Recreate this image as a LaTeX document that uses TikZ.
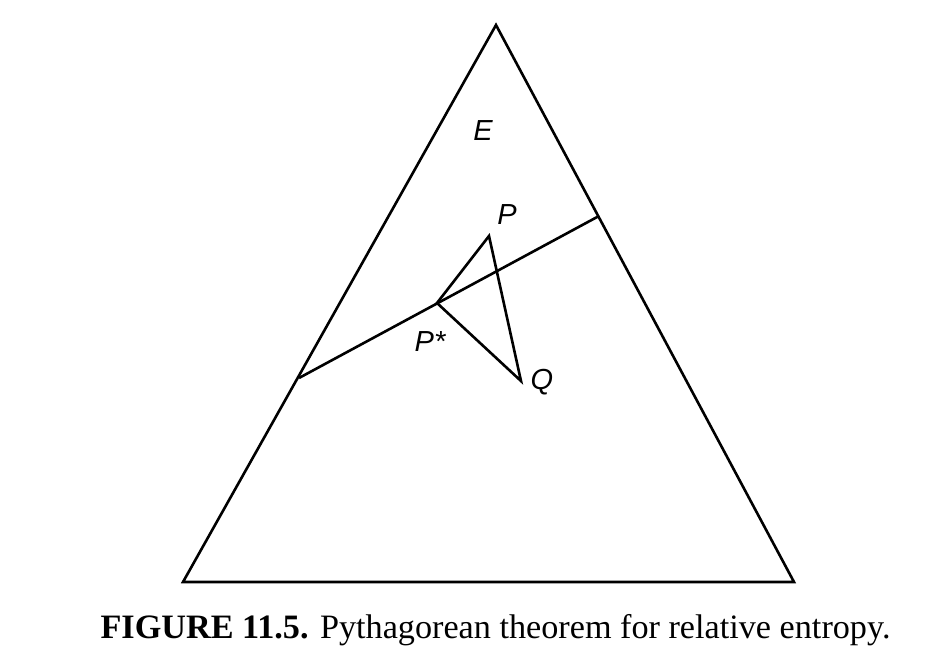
\documentclass[tikz,border=0pt]{standalone}
\usepackage{fontspec}
\setmainfont{Liberation Serif}
\newfontfamily\lblfont{Liberation Sans}
\begin{document}
\begin{tikzpicture}[x=1pt,y=-1pt,
  edge/.style={line width=2.6pt,line join=miter,line cap=butt},
  lbl/.style={font=\lblfont\itshape\fontsize{29}{31}\selectfont,inner sep=0pt}]
\useasboundingbox (0,0) rectangle (929,669);
\coordinate (A) at (496,25);
\coordinate (B) at (183,582);
\coordinate (C) at (794,582);
\coordinate (L) at (299,378);
\coordinate (R) at (599,216);
\coordinate (P) at (489,236);
\coordinate (Ps) at (437,303);
\coordinate (Q) at (521,381);
\draw[edge] (A) -- (B) -- (C) -- cycle;
\draw[edge] (L) -- (R);
\draw[edge] (P) -- (Ps) -- (Q) -- cycle;
\node[lbl] (lE) at (483,131) {E};
\node[lbl] (lP) at (507,215) {P};
\node[lbl] (lPs) at (430,342) {P*};
\node[lbl] (lQ) at (542,382) {Q};
\node[anchor=base,inner sep=0pt,font=\fontsize{34.2}{36}\selectfont] (cap) at (495.5,638) {\textbf{FIGURE 11.5.} Pythagorean theorem for relative entropy.};
\end{tikzpicture}
\end{document}
